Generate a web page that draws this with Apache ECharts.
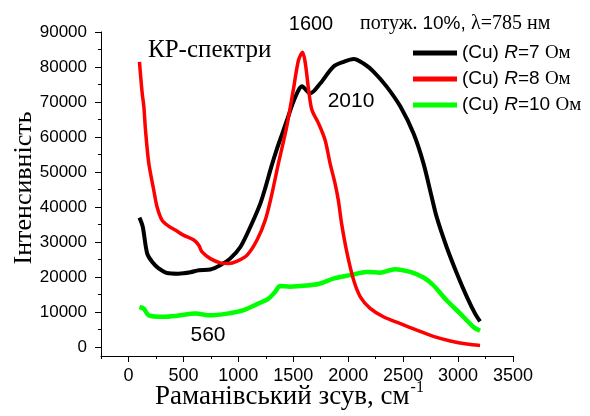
<!DOCTYPE html>
<html>
<head>
<meta charset="utf-8">
<script src="https://cdn.jsdelivr.net/npm/echarts@6/dist/echarts.min.js"></script>
<style>
  html, body { margin: 0; padding: 0; background: #fff; }
  #chart { width: 590px; height: 416px; }
</style>
</head>
<body>
<div id="chart"></div>
<script>
// Raman shift (cm^-1) and intensity for each Cu film
const shiftR7 = [100,130,170,215,275,350,455,565,640,745,835,925,1020,1110,1200,1250,1300,1350,1400,1450,1500,1550,1580,1600,1655,1745,1865,1960,2050,2140,2230,2350,2475,2595,2685,2760,2805,2895,2990,3080,3155,3200];
const intensR7 = [37000,34400,26800,24400,22500,21200,21000,21400,22000,22200,23400,25300,28700,34400,41000,46000,51500,56500,61000,65500,70000,73500,74500,74000,72500,75300,80100,81500,82300,81000,78700,74400,68700,61000,52500,42900,37200,28700,21000,14400,9600,7400];

const shiftR8 = [100,125,140,155,185,230,260,305,365,430,500,595,640,670,745,835,910,990,1080,1170,1245,1300,1365,1440,1500,1548,1585,1610,1640,1670,1730,1790,1835,1880,1910,1940,1990,2050,2110,2200,2320,2470,2625,2775,2930,3080,3200];
const intensR8 = [81500,72500,68700,62000,52500,44900,40100,36300,34600,33400,32000,30600,29100,27200,25300,24100,23900,24600,26300,30600,36300,43000,52500,62900,73400,82000,84200,81000,73400,67700,63900,59100,52500,46800,42000,35300,26800,19100,14400,11100,8700,6800,4900,3100,1800,900,500];

const shiftR10 = [100,140,185,320,445,610,745,900,1050,1170,1275,1335,1380,1470,1565,1650,1745,1865,2020,2170,2290,2425,2565,2685,2775,2895,3020,3140,3200];
const intensR10 = [11500,11000,9100,8700,9000,9600,9100,9600,10600,12300,13900,15800,17500,17300,17500,17700,18200,19600,20600,21500,21300,22300,21500,19900,17700,13400,9600,5800,4700];

const seriesNames = ['R=7', 'R=8', 'R=10'];
const xMajor = [0,500,1000,1500,2000,2500,3000,3500];
const xMinor = [-250,250,750,1250,1750,2250,2750,3250];
const yMajor = [0,10000,20000,30000,40000,50000,60000,70000,80000,90000];
const yMinor = [5000,15000,25000,35000,45000,55000,65000,75000,85000];

const SANS = 'Liberation Sans';
const SERIF = 'Liberation Serif';
const X_RANGE = { min: -250, max: 3500 };
const Y_RANGE = { min: -2500, max: 90000 };

function pairs(xs, ys) { return xs.map((x, i) => [x, ys[i]]); }
function plain(v) { return String(v); }

const chart = echarts.init(document.getElementById('chart'), null, { renderer: 'canvas' });

// main axis: line, major ticks and labels
function mainAxis(range, ticks, fontSize, margin, position) {
  return {
    type: 'value', min: range.min, max: range.max, position: position,
    axisLine: { show: true, onZero: false, lineStyle: { color: '#000', width: 1 } },
    axisTick: { show: true, inside: false, length: 6, customValues: ticks, lineStyle: { color: '#000' } },
    axisLabel: { color: '#000', fontFamily: SANS, fontSize: fontSize, margin: margin, formatter: plain, customValues: ticks },
    splitLine: { show: false }
  };
}
// overlay axis carrying only the short minor ticks
function minorAxis(range, ticks, position) {
  return {
    type: 'value', min: range.min, max: range.max, position: position, offset: 0,
    axisLine: { show: false, onZero: false },
    axisTick: { show: true, inside: false, length: 3, customValues: ticks, lineStyle: { color: '#000' } },
    axisLabel: { show: false },
    splitLine: { show: false }
  };
}

chart.setOption({
  animation: false,
  backgroundColor: '#fff',
  grid: { left: 101, right: 77, top: 32, bottom: 60, containLabel: false },
  xAxis: [mainAxis(X_RANGE, xMajor, 18, 11, 'bottom'), minorAxis(X_RANGE, xMinor, 'bottom')],
  yAxis: [mainAxis(Y_RANGE, yMajor, 17, 14, 'left'), minorAxis(Y_RANGE, yMinor, 'left')],
  legend: {
    orient: 'vertical', left: 413, top: 42, padding: 0,
    icon: 'rect', itemWidth: 44, itemHeight: 5, itemGap: 4,
    data: seriesNames,
    formatter: function (name) {
      const n = name.split('=')[1];
      return '(Cu) {i|R}=' + n + ' {s|Ом}';
    },
    textStyle: {
      color: '#000', fontFamily: SANS, fontSize: 19, lineHeight: 22, padding: [0, 0, 0, 0],
      rich: {
        i: { fontFamily: SANS, fontStyle: 'italic', fontSize: 19, color: '#000' },
        s: { fontFamily: SERIF, fontSize: 19, color: '#000' }
      }
    }
  },
  series: [
    { name: seriesNames[0], type: 'line', data: pairs(shiftR7, intensR7), showSymbol: false, smooth: 0.3,
      lineStyle: { color: '#000000', width: 4 }, itemStyle: { color: '#000000' }, z: 3 },
    { name: seriesNames[1], type: 'line', data: pairs(shiftR8, intensR8), showSymbol: false, smooth: 0.3,
      lineStyle: { color: '#ff0000', width: 3.5 }, itemStyle: { color: '#ff0000' }, z: 4 },
    { name: seriesNames[2], type: 'line', data: pairs(shiftR10, intensR10), showSymbol: false, smooth: 0.3,
      lineStyle: { color: '#00ff00', width: 4.5 }, itemStyle: { color: '#00ff00' }, z: 2 }
  ],
  graphic: [
    { type: 'text', left: 148, top: 38, style: { text: 'КР-спектри', font: '25px "' + SERIF + '"', fill: '#000' } },
    { type: 'text', x: 311, y: 24, style: { text: '1600', font: '20px "' + SANS + '"', fill: '#000', align: 'center', verticalAlign: 'middle' } },
    { type: 'text', x: 351, y: 101, style: { text: '2010', font: '21px "' + SANS + '"', fill: '#000', align: 'center', verticalAlign: 'middle' } },
    { type: 'text', x: 208, y: 335, style: { text: '560', font: '21px "' + SANS + '"', fill: '#000', align: 'center', verticalAlign: 'middle' } },
    { type: 'text', x: 360, y: 24, style: {
        text: '{a|потуж. }{b|10%, }{a|λ=785 нм}', verticalAlign: 'middle',
        rich: {
          a: { fontFamily: SERIF, fontSize: 20, fill: '#000' },
          b: { fontFamily: SANS, fontSize: 19, fill: '#000' }
        }
      } },
    { type: 'text', x: 24, y: 188, rotation: Math.PI / 2, style: {
        text: 'Інтенсивність', font: '26px "' + SERIF + '"', fill: '#000', align: 'center', verticalAlign: 'middle' } },
    { type: 'text', x: 155, y: 397, style: {
        text: '{m|Раманівський зсув, см}{p|-1}', verticalAlign: 'middle',
        rich: {
          m: { fontFamily: SERIF, fontSize: 27, fill: '#000' },
          p: { fontFamily: SERIF, fontSize: 16, fill: '#000', verticalAlign: 'top', padding: [0, 0, 18, 1] }
        }
      } }
  ]
});
</script>
</body>
</html>
